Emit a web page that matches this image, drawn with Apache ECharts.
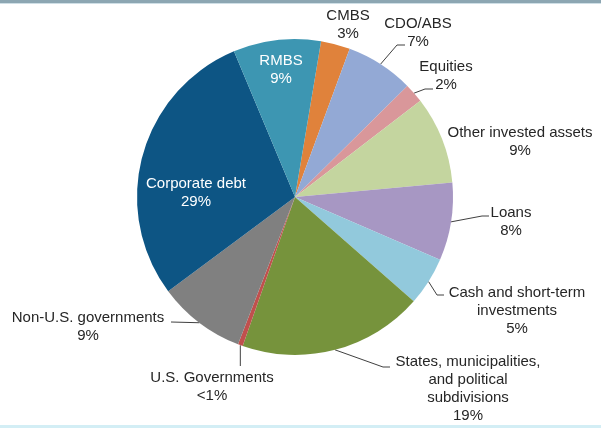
<!DOCTYPE html>
<html>
<head>
<meta charset="utf-8">
<title>Investment portfolio composition</title>
<script src="https://cdn.jsdelivr.net/npm/echarts@6/dist/echarts.min.js"></script>
<style>
  html, body { margin: 0; padding: 0; background: #ffffff; }
  #chart { width: 601px; height: 428px; }
</style>
</head>
<body>
<div id="chart"></div>
<script>
// Portfolio categories, clockwise from the top of the pie
const categories = [
  'CMBS',
  'CDO/ABS',
  'Equities',
  'Other invested assets',
  'Loans',
  'Cash and short-term\ninvestments',
  'States, municipalities,\nand political\nsubdivisions',
  'U.S. Governments',
  'Non-U.S. governments',
  'Corporate debt',
  'RMBS'
];

// Share of the portfolio, percent
const shares = [3, 7, 2, 9, 8, 5, 19, 0.5, 9, 29, 9];

// Slice fills
const sliceColors = [
  '#e0823b', '#93a9d5', '#d9979a', '#c4d59f', '#a797c3', '#92c9dc',
  '#76933c', '#c0504d', '#808080', '#0d5584', '#3d96b2'
];

// Where each label block sits and how its leader line runs
const labelSpots = [
  { at: [348, 25] },
  { at: [418, 33], bend: [397, 45], end: [405, 45] },
  { at: [446, 76], bend: [425, 89], end: [433, 89] },
  { at: [520, 142] },
  { at: [511, 222], bend: [482, 216], end: [489, 216] },
  { at: [517, 311], bend: [437, 295], end: [444, 295] },
  { at: [468, 389], bend: [383, 367], end: [390, 367] },
  { at: [212, 387], drop: 366 },
  { at: [88, 327], end: [171, 322] },
  { at: [196, 193], inside: true },
  { at: [281, 70], inside: true }
];

const pieData = categories.map(function (name, i) {
  const spot = labelSpots[i];
  const hasLine = !!(spot.end || spot.drop);
  return {
    name: name,
    value: shares[i],
    itemStyle: { color: sliceColors[i] },
    label: spot.inside
      ? { position: 'inside', color: '#ffffff' }
      : { position: 'outside', color: '#262626' },
    labelLine: { show: hasLine }
  };
});

const chart = echarts.init(document.getElementById('chart'), null, { renderer: 'canvas' });

chart.setOption({
  backgroundColor: '#ffffff',
  animation: false,
  graphic: [
    { type: 'rect', shape: { x: 0, y: 0, width: 601, height: 3 }, style: { fill: '#8ca6b2' }, silent: true },
    { type: 'rect', shape: { x: 0, y: 3, width: 601, height: 1 }, style: { fill: '#cfdfe6' }, silent: true },
    { type: 'rect', shape: { x: 0, y: 425, width: 601, height: 3 }, style: { fill: '#d3eef5' }, silent: true }
  ],
  series: [{
    type: 'pie',
    center: [295, 197],
    radius: 158,
    startAngle: 80.5,
    clockwise: true,
    avoidLabelOverlap: false,
    itemStyle: { borderWidth: 0 },
    label: {
      show: true,
      fontFamily: 'Liberation Sans, Arial, sans-serif',
      fontSize: 15,
      lineHeight: 18,
      align: 'center',
      formatter: function (p) {
        const pct = p.value < 1 ? '<1%' : p.value + '%';
        return p.name + '\n' + pct;
      }
    },
    labelLine: {
      show: true,
      smooth: false,
      lineStyle: { color: '#404040', width: 1 }
    },
    labelLayout: function (p) {
      const spot = labelSpots[p.dataIndex];
      const out = { x: spot.at[0], y: spot.at[1], align: 'center', verticalAlign: 'middle' };
      if (p.labelLinePoints && (spot.end || spot.drop)) {
        const s = p.labelLinePoints[0];
        if (spot.drop) {
          out.labelLinePoints = [s, [s[0], spot.drop], [s[0], spot.drop]];
        } else {
          const bend = spot.bend || spot.end;
          out.labelLinePoints = [s, bend, spot.end];
        }
      }
      return out;
    },
    emphasis: { disabled: true },
    data: pieData
  }]
});
</script>
</body>
</html>
